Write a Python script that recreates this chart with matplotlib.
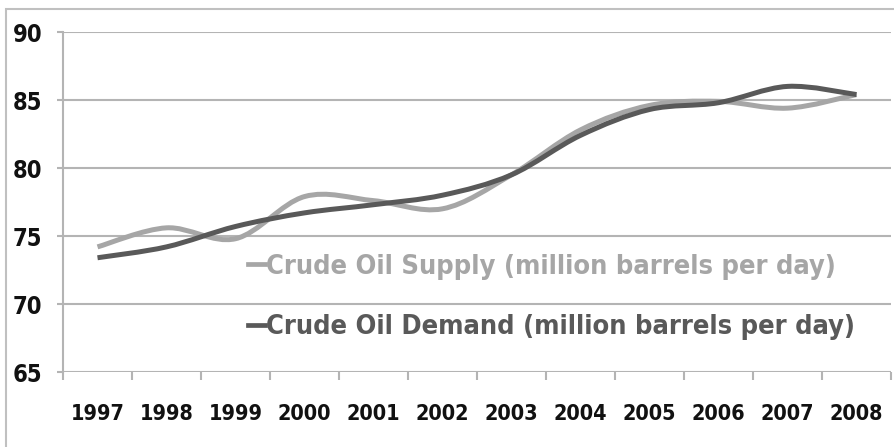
import matplotlib
matplotlib.use("Agg")
import matplotlib.pyplot as plt
from matplotlib.path import Path
from matplotlib.patches import PathPatch, Rectangle
from matplotlib.lines import Line2D

# data (million barrels per day)
YEARS = ["1997", "1998", "1999", "2000", "2001", "2002",
         "2003", "2004", "2005", "2006", "2007", "2008"]
SUPPLY = [74.2, 75.6, 74.8, 77.9, 77.6, 77.0, 79.5, 82.8, 84.6, 84.9, 84.4, 85.4]
DEMAND = [73.4, 74.2, 75.7, 76.7, 77.3, 78.0, 79.5, 82.4, 84.3, 84.8, 86.0, 85.4]

SUPPLY_COLOR = "#a6a6a6"
DEMAND_COLOR = "#595959"
GRID_COLOR = "#b4b4b4"


def smooth_path(xs, ys):
    """Catmull-Rom style smoothed line as cubic bezier path (like Excel 'smoothed line')."""
    pts = list(zip(xs, ys))
    n = len(pts)
    verts = [pts[0]]
    codes = [Path.MOVETO]
    for i in range(n - 1):
        p0 = pts[i - 1] if i > 0 else pts[i]
        p1 = pts[i]
        p2 = pts[i + 1]
        p3 = pts[i + 2] if i + 2 < n else pts[i + 1]
        c1 = (p1[0] + (p2[0] - p0[0]) / 6, p1[1] + (p2[1] - p0[1]) / 6)
        c2 = (p2[0] - (p3[0] - p1[0]) / 6, p2[1] - (p3[1] - p1[1]) / 6)
        verts += [c1, c2, p2]
        codes += [Path.CURVE4] * 3
    return Path(verts, codes)


def main():
    fig = plt.figure(figsize=(8.94, 4.47), dpi=100)
    ax = fig.add_axes([63 / 894, 75 / 447, 828 / 894, 340 / 447])

    xs = list(range(len(YEARS)))
    for vals, color in [(SUPPLY, SUPPLY_COLOR), (DEMAND, DEMAND_COLOR)]:
        patch = PathPatch(smooth_path(xs, vals), facecolor="none", edgecolor=color,
                          linewidth=3.6, capstyle="butt", joinstyle="round", zorder=3)
        ax.add_patch(patch)

    ax.set_xlim(-0.5, len(YEARS) - 0.5)
    ax.set_ylim(65, 90)
    ax.set_yticks([65, 70, 75, 80, 85, 90])
    ax.set_xticks(xs)
    ax.set_xticklabels(YEARS)
    ax.set_xticks([i - 0.5 for i in range(len(YEARS) + 1)], minor=True)

    ax.grid(axis="y", color=GRID_COLOR, linewidth=1.5, zorder=0)
    ax.set_axisbelow(True)
    for side in ["top", "right", "bottom"]:
        ax.spines[side].set_visible(False)
    ax.spines["left"].set_color(GRID_COLOR)
    ax.spines["left"].set_linewidth(1.5)

    ax.tick_params(axis="x", which="major", length=0, pad=23)
    ax.tick_params(axis="x", which="minor", length=6, width=1.5, color=GRID_COLOR, direction="out")
    ax.tick_params(axis="y", length=4, width=1.5, color=GRID_COLOR, pad=11)
    for lbl in ax.get_xticklabels():
        lbl.set_fontsize(15.5)
    for lbl in ax.get_yticklabels():
        lbl.set_fontsize(17)
    for lbl in ax.get_xticklabels() + ax.get_yticklabels():
        lbl.set_fontfamily("DejaVu Sans")
        lbl.set_fontstretch("condensed")
        lbl.set_fontweight("bold")
        lbl.set_color("#111111")

    handles = [Line2D([], [], color=SUPPLY_COLOR, linewidth=3.4),
               Line2D([], [], color=DEMAND_COLOR, linewidth=3.4)]
    labels = ["Crude Oil Supply (million barrels per day)",
              "Crude Oil Demand (million barrels per day)"]
    leg = ax.legend(handles, labels, loc="upper left", bbox_to_anchor=(234 / 894, 1 - 240 / 447),
                    bbox_transform=fig.transFigure, frameon=False, handlelength=0.65,
                    handletextpad=0.05, labelspacing=1.28, borderpad=0,
                    prop=dict(family="DejaVu Sans", stretch="condensed", weight="bold", size=19.5))
    for txt, color in zip(leg.get_texts(), [SUPPLY_COLOR, DEMAND_COLOR]):
        txt.set_color(color)

    # outer chart border
    fig.patches.append(Rectangle((6 / 894, -0.01), 1.0, 1 - 9 / 447 + 0.01,
                                 transform=fig.transFigure, fill=False,
                                 edgecolor="#c0c0c0", linewidth=1.5))

    fig.savefig("out.png", dpi=100)


if __name__ == "__main__":
    main()
